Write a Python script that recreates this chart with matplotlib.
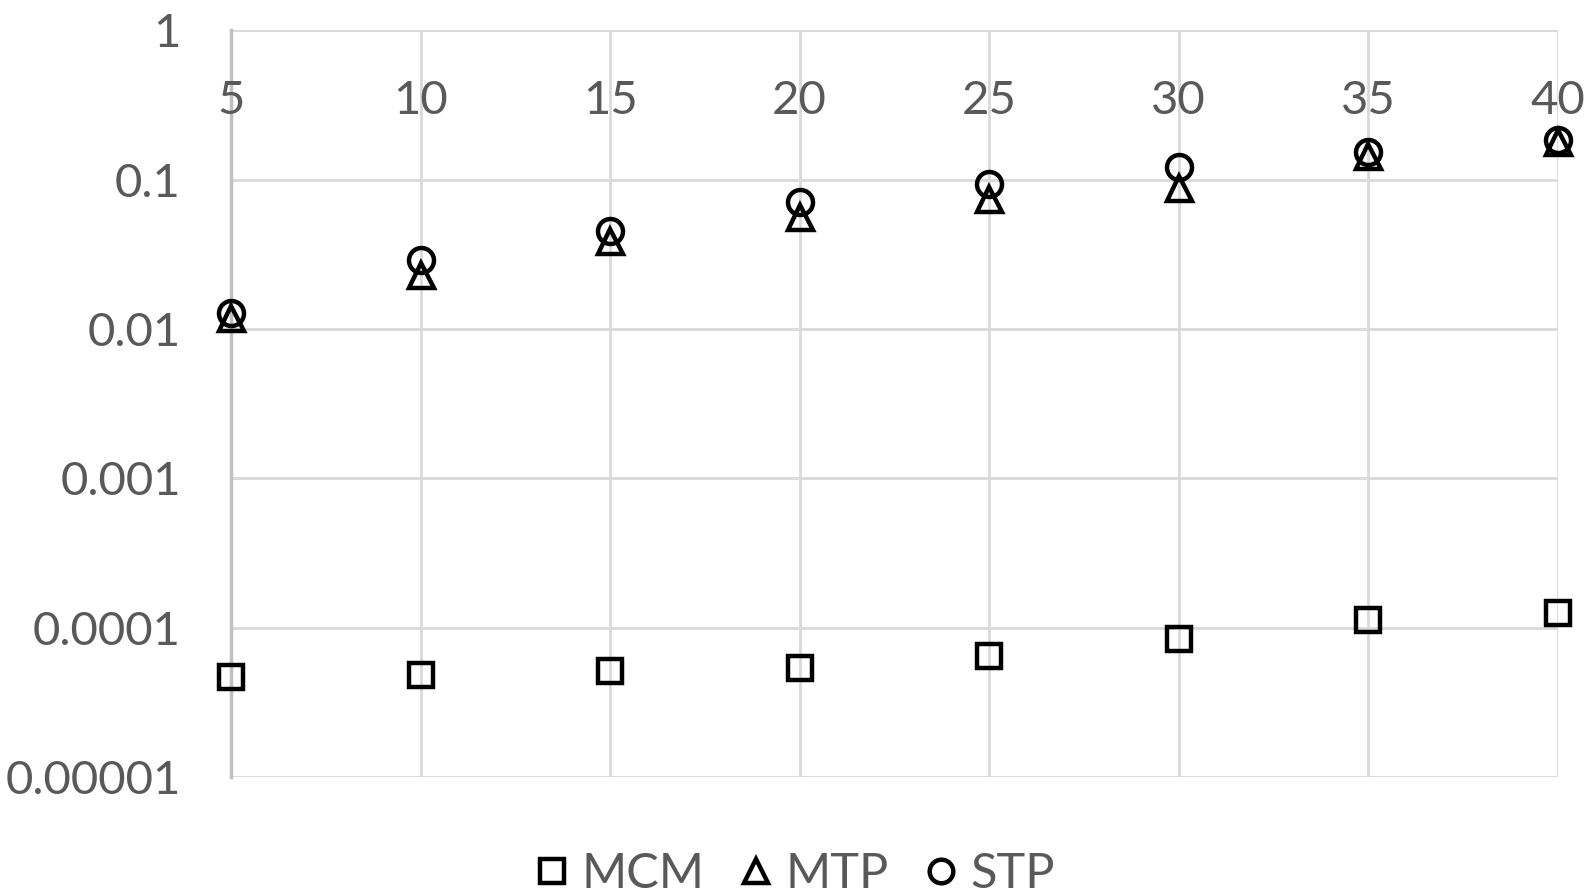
import matplotlib
matplotlib.use("Agg")
import matplotlib.pyplot as plt
from matplotlib.transforms import blended_transform_factory

# data
sizes = [5, 10, 15, 20, 25, 30, 35, 40]
mcm = [4.7e-5, 4.85e-5, 5.1e-5, 5.35e-5, 6.45e-5, 8.4e-5, 1.12e-4, 1.26e-4]
mtp = [0.0119, 0.023, 0.039, 0.056, 0.0745, 0.0885, 0.1435, 0.179]
stp = [0.0129, 0.029, 0.0457, 0.0708, 0.094, 0.1226, 0.153, 0.184]
y_ticks = [1e-5, 1e-4, 1e-3, 1e-2, 1e-1, 1]
y_labels = ["0.00001", "0.0001", "0.001", "0.01", "0.1", "1"]

plt.rcParams['font.family'] = ['Lato', 'DejaVu Sans']
text_col = '#595959'
grid_col = '#d9d9d9'

fig = plt.figure(figsize=(15.94, 8.96), dpi=100)
ax = fig.add_axes([0.1449, 0.1328, 0.8325, 0.8332])
ax.set_yscale('log')
ax.set_ylim(1e-5, 1)
ax.set_xlim(5, 40)

mk = dict(linestyle='none', markerfacecolor='none', markeredgecolor='black',
          markeredgewidth=3.2, clip_on=False, zorder=3)
ax.plot(sizes, mcm, marker='s', markersize=17, label='MCM', **mk)
ax.plot(sizes, mtp, marker='^', markersize=18, label='MTP', **mk)
ax.plot(sizes, stp, marker='o', markersize=18, label='STP', **mk)

# grid
ax.set_yticks(y_ticks)
ax.set_yticklabels(y_labels)
ax.yaxis.set_minor_locator(matplotlib.ticker.NullLocator())
ax.set_xticks(sizes)
ax.grid(True, color=grid_col, linewidth=2)
ax.set_axisbelow(True)
for s in ['top', 'right', 'bottom']:
    ax.spines[s].set_visible(False)
ax.spines['left'].set_color('#bfbfbf')
ax.spines['left'].set_linewidth(2.5)
ax.tick_params(axis='both', length=0)
ax.tick_params(axis='y', labelsize=34, labelcolor=text_col, pad=36)
ax.set_xticklabels([])

# category labels sit just under the top (axis crosses at 1)
trans = blended_transform_factory(ax.transData, ax.transAxes)
for x in sizes:
    ax.text(x, 0.905, str(x), transform=trans, ha='center', va='center',
            fontsize=34, color=text_col)

leg = ax.legend(loc='center', bbox_to_anchor=(0.425, -0.13), ncol=3, frameon=False,
                fontsize=35, handletextpad=0.25, columnspacing=0.72,
                handlelength=0.7)
for t in leg.get_texts():
    t.set_color(text_col)
for h in leg.legend_handles:
    h.set_markersize(17)
    h.set_markeredgewidth(3.2)

fig.savefig('out.png', dpi=100)
